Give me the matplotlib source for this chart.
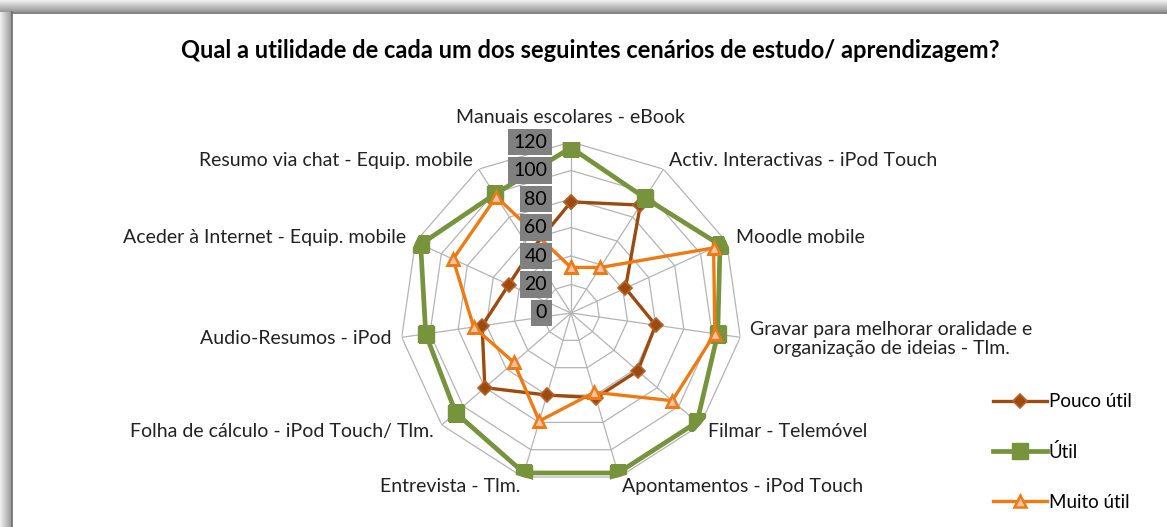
import numpy as np
import matplotlib
matplotlib.use("Agg")
import matplotlib.pyplot as plt
from matplotlib.patches import Rectangle
from matplotlib.lines import Line2D
import matplotlib.transforms as mtransforms

plt.rcParams['font.family'] = ['Lato', 'DejaVu Sans']

title = "Qual a utilidade de cada um dos seguintes cenários de estudo/ aprendizagem?"
categories = [
    "Manuais escolares - eBook",
    "Activ. Interactivas - iPod Touch",
    "Moodle mobile",
    "Gravar para melhorar oralidade e\norganização de ideias - Tlm.",
    "Filmar - Telemóvel",
    "Apontamentos - iPod Touch",
    "Entrevista - Tlm.",
    "Folha de cálculo - iPod Touch/ Tlm.",
    "Audio-Resumos - iPod",
    "Aceder à Internet - Equip. mobile",
    "Resumo via chat - Equip. mobile",
]
pouco_util = [78, 90, 42, 60, 62, 62, 60, 80, 63, 48, 52]
util = [116, 96, 115, 104, 117, 117, 117, 107, 103, 116, 99]
muito_util = [32, 38, 110, 102, 94, 58, 79, 53, 69, 91, 97]
r_ticks = [0, 20, 40, 60, 80, 100, 120]

W, H = 1167, 527
fig = plt.figure(figsize=(W / 100, H / 100), dpi=100)

# chart frame with shadow
for i in range(12):
    g = 0.93 - 0.03 * i
    fig.add_artist(Rectangle((0, 1 - (i + 1) / H), 1, 1 / H, transform=fig.transFigure,
                             facecolor=(g, g, g), edgecolor='none'))
    fig.add_artist(Rectangle((i / W, 0), 1 / W, 1 - 12 / H, transform=fig.transFigure,
                             facecolor=(g, g, g), edgecolor='none'))
fig.add_artist(Line2D([11.5 / W, 11.5 / W], [0, 1 - 12 / H], transform=fig.transFigure,
                      color='#6e6e6e', lw=1.2))
fig.add_artist(Line2D([11.5 / W, 1], [1 - 12.5 / H, 1 - 12.5 / H], transform=fig.transFigure,
                      color='#6e6e6e', lw=1.2))

fig.text(590 / W, 1 - 50 / H, title, ha='center', va='center', fontsize=17,
         fontweight='bold', color='black')

cx, cy, R = 571, 313, 171
ax = fig.add_axes([(cx - R) / W, (H - cy - R) / H, 2 * R / W, 2 * R / H], projection='polar')
ax.set_theta_zero_location('N')
ax.set_theta_direction(-1)
ax.set_ylim(0, 120)
ax.set_xticks([])
ax.set_yticks([])
ax.grid(False)
ax.spines['polar'].set_visible(False)
ax.patch.set_alpha(0)

n = len(categories)
theta = np.arange(n) * 2 * np.pi / n
theta_c = np.append(theta, theta[0])

# polygon grid
for r in r_ticks[1:]:
    ax.plot(theta_c, [r] * (n + 1), color='#b4b4b4', lw=0.9, zorder=1)
for t in theta:
    ax.plot([t, t], [0, 120], color='#b4b4b4', lw=0.9, zorder=1)

def closed(v):
    return v + v[:1]

ax.plot(theta_c, closed(pouco_util), color='#9c4a0e', lw=2.4, marker='D', ms=7,
        mfc='#9c4a0e', mec='#b8602a', mew=1.2, zorder=3, label='Pouco útil')
ax.plot(theta_c, closed(util), color='#77933c', lw=3.4, marker='s', ms=11,
        mfc='#77933c', mec='#77933c', zorder=4, label='Útil')
ax.plot(theta_c, closed(muito_util), color='#f07a12', lw=2.4, marker='^', ms=9,
        mfc='#f6c3a8', mec='#f07a12', mew=1.8, zorder=5, label='Muito útil')

# radial tick labels with gray boxes
off = mtransforms.offset_copy(ax.transData, fig=fig, x=-24, y=0, units='dots')
for r in r_ticks:
    ax.text(0, r, str(r), transform=off, ha='right', va='center', fontsize=14,
            color='black', zorder=6,
            bbox=dict(boxstyle='square,pad=0.24', fc='#808080', ec='none'))

# category labels
for t, lab in zip(theta, categories):
    s = np.sin(t)
    ha = 'left' if s > 0.1 else ('right' if s < -0.1 else 'center')
    rr = 137 if abs(s) < 0.1 else 127
    ax.text(t, rr, lab, ha=ha, va='center', fontsize=14, color='#222222',
            multialignment='center', linespacing=1.15, zorder=6)

fig.legend(loc='center left', bbox_to_anchor=(985 / W, 1 - 452 / H), frameon=False,
           fontsize=13.5, labelspacing=1.75, handlelength=2.9, handletextpad=0.1,
           borderaxespad=0)

fig.savefig("out.png", dpi=100, facecolor='white')
